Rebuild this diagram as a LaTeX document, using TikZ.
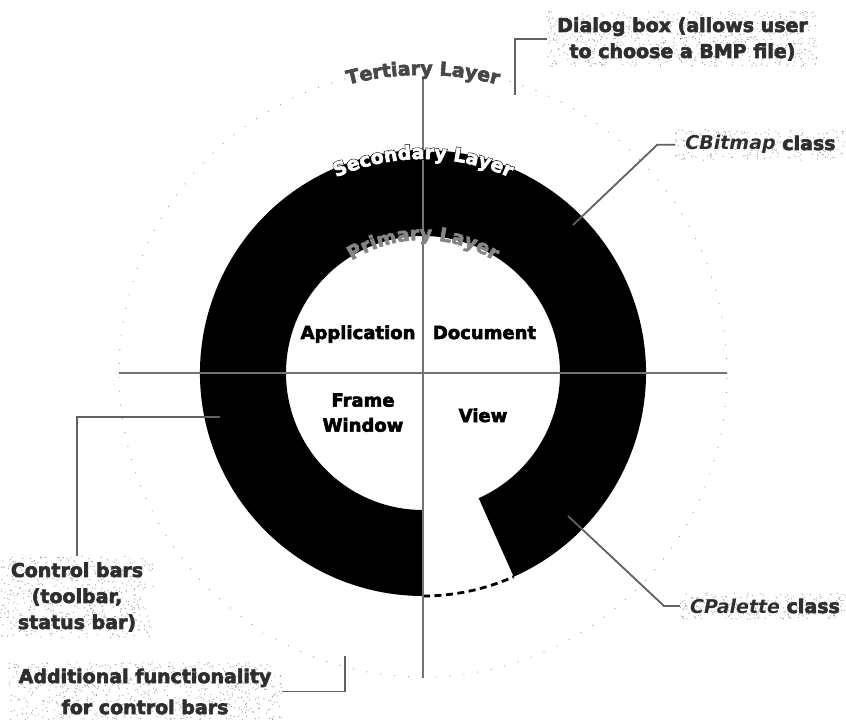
\documentclass[tikz,border=0pt]{standalone}
\usepackage{fontspec}
\setmainfont{DejaVu Sans}[BoldFeatures={FakeBold=3.2}]
\newfontface\halofont{DejaVu Sans Bold}[FakeBold=9]
\usetikzlibrary{decorations.text,calc}

\pgfdeclarelayer{speckles}
\pgfsetlayers{speckles,main}

\newcommand\arcfont{\bfseries\fontsize{19}{19}\selectfont}
\newcommand\archalo{\halofont\fontsize{19}{19}\selectfont}
\newcommand\calloutfont{\bfseries\fontsize{19}{26}\selectfont}

% scatter light grey dots over the area of a node
\newcommand\speckle[2]{%
  \begin{pgfonlayer}{speckles}
  \foreach \k in {1,...,#2}{%
    \fill[speck] let \p1=(#1.south west), \p2=(#1.north east) in
      ({\x1+rnd*(\x2-\x1)},{\y1+rnd*(\y2-\y1)}) circle (0.6);
  }
  \end{pgfonlayer}}

\begin{document}
\begin{tikzpicture}[x=1pt,y=1pt,
  axis/.style={draw=black!55, line width=1.6pt},
  leader/.style={draw=black!62, line width=1.8pt},
  quad/.style={font=\bfseries\fontsize{18}{25}\selectfont, align=center, inner sep=0pt},
  callout/.style={font=\calloutfont, text=black!82, align=center, inner xsep=10pt, inner ysep=6pt},
  speck/.style={fill=black!40},
]
\pgfmathsetseed{11}
\useasboundingbox (-423,-347) rectangle (423,373);

% tertiary layer: faint dotted circle
\draw[black!40, line width=0.9pt, dash pattern=on 0.9pt off 13pt] (0,0) circle (304);

% secondary layer: thick ring with an opening at the bottom
\fill[black] (-66:223) arc (-66:270:223) -- (270:137) arc (270:-66:137) -- cycle;
\draw[black, line width=2.8pt, dash pattern=on 7pt off 4.5pt] (270:223) arc (270:294:223);

% quadrant axes
\coordinate (axN) at (0,295);
\coordinate (axS) at (0,-305);
\coordinate (axW) at (-304,0);
\coordinate (axE) at (304,0);
\draw[axis] (axN) -- (axS);
\draw[axis] (axW) -- (axE);

% curved layer names
\path[decorate, decoration={text along path, text={|\arcfont|Tertiary Layer},
  text align=center, text color=black!72}] (160:298) arc (160:20:298);
\path[decorate, decoration={text along path, text={|\arcfont|Primary Layer},
  text align=center, text color=black!48}] (170:133) arc (170:10:133);
% white lettering with a black outline
\path[decorate, decoration={text along path, text={|\archalo|Secondary Layer},
  text align=center, text color=black}] (150:214) arc (150:30:214);
\path[decorate, decoration={text along path, text={|\arcfont|Secondary Layer},
  text align=center, text color=white}] (150:214) arc (150:30:214);

% primary layer quadrants
\node[quad, anchor=base] (app) at (-65,34) {Application};
\node[quad, anchor=base] (doc) at (61.5,34) {Document};
\node[quad] (frm) at (-60,-39.7) {Frame\\Window};
\node[quad, anchor=base] (viw) at (60,-49) {View};

% callouts
\node[callout] (dlg) at (259.5,334) {Dialog box (allows user\\to choose a BMP file)};
\node[callout, anchor=base] (bmp) at (337.5,223) {\textit{CBitmap} class};
\node[callout, anchor=base] (pal) at (342,-240) {\textit{CPalette} class};
\node[callout] (ctl) at (-346,-224) {Control bars\\(toolbar,\\status bar)};
\node[callout, font=\bfseries\fontsize{19}{31}\selectfont] (add) at (-278,-318.5)
  {Additional functionality\\for control bars};

\speckle{dlg}{750}
\speckle{bmp}{250}
\speckle{pal}{250}
\speckle{ctl}{550}
\speckle{add}{750}

% leader lines
\coordinate (dlgEnd) at (92,278);
\coordinate (bmpEnd) at (150,148);
\coordinate (palEnd) at (145,-143);
\coordinate (ctlEnd) at (-203,-44);
\coordinate (addEnd) at (-78,-283);
\draw[leader] (dlg.west) -| (dlgEnd);
\draw[leader] (bmp.west) -- ++(-18,0) -- (bmpEnd);
\draw[leader] (pal.west) -- ++(-16,0) -- (palEnd);
\draw[leader] (ctl.north) |- (ctlEnd);
\draw[leader] (add.east) -| (addEnd);
\end{tikzpicture}
\end{document}
